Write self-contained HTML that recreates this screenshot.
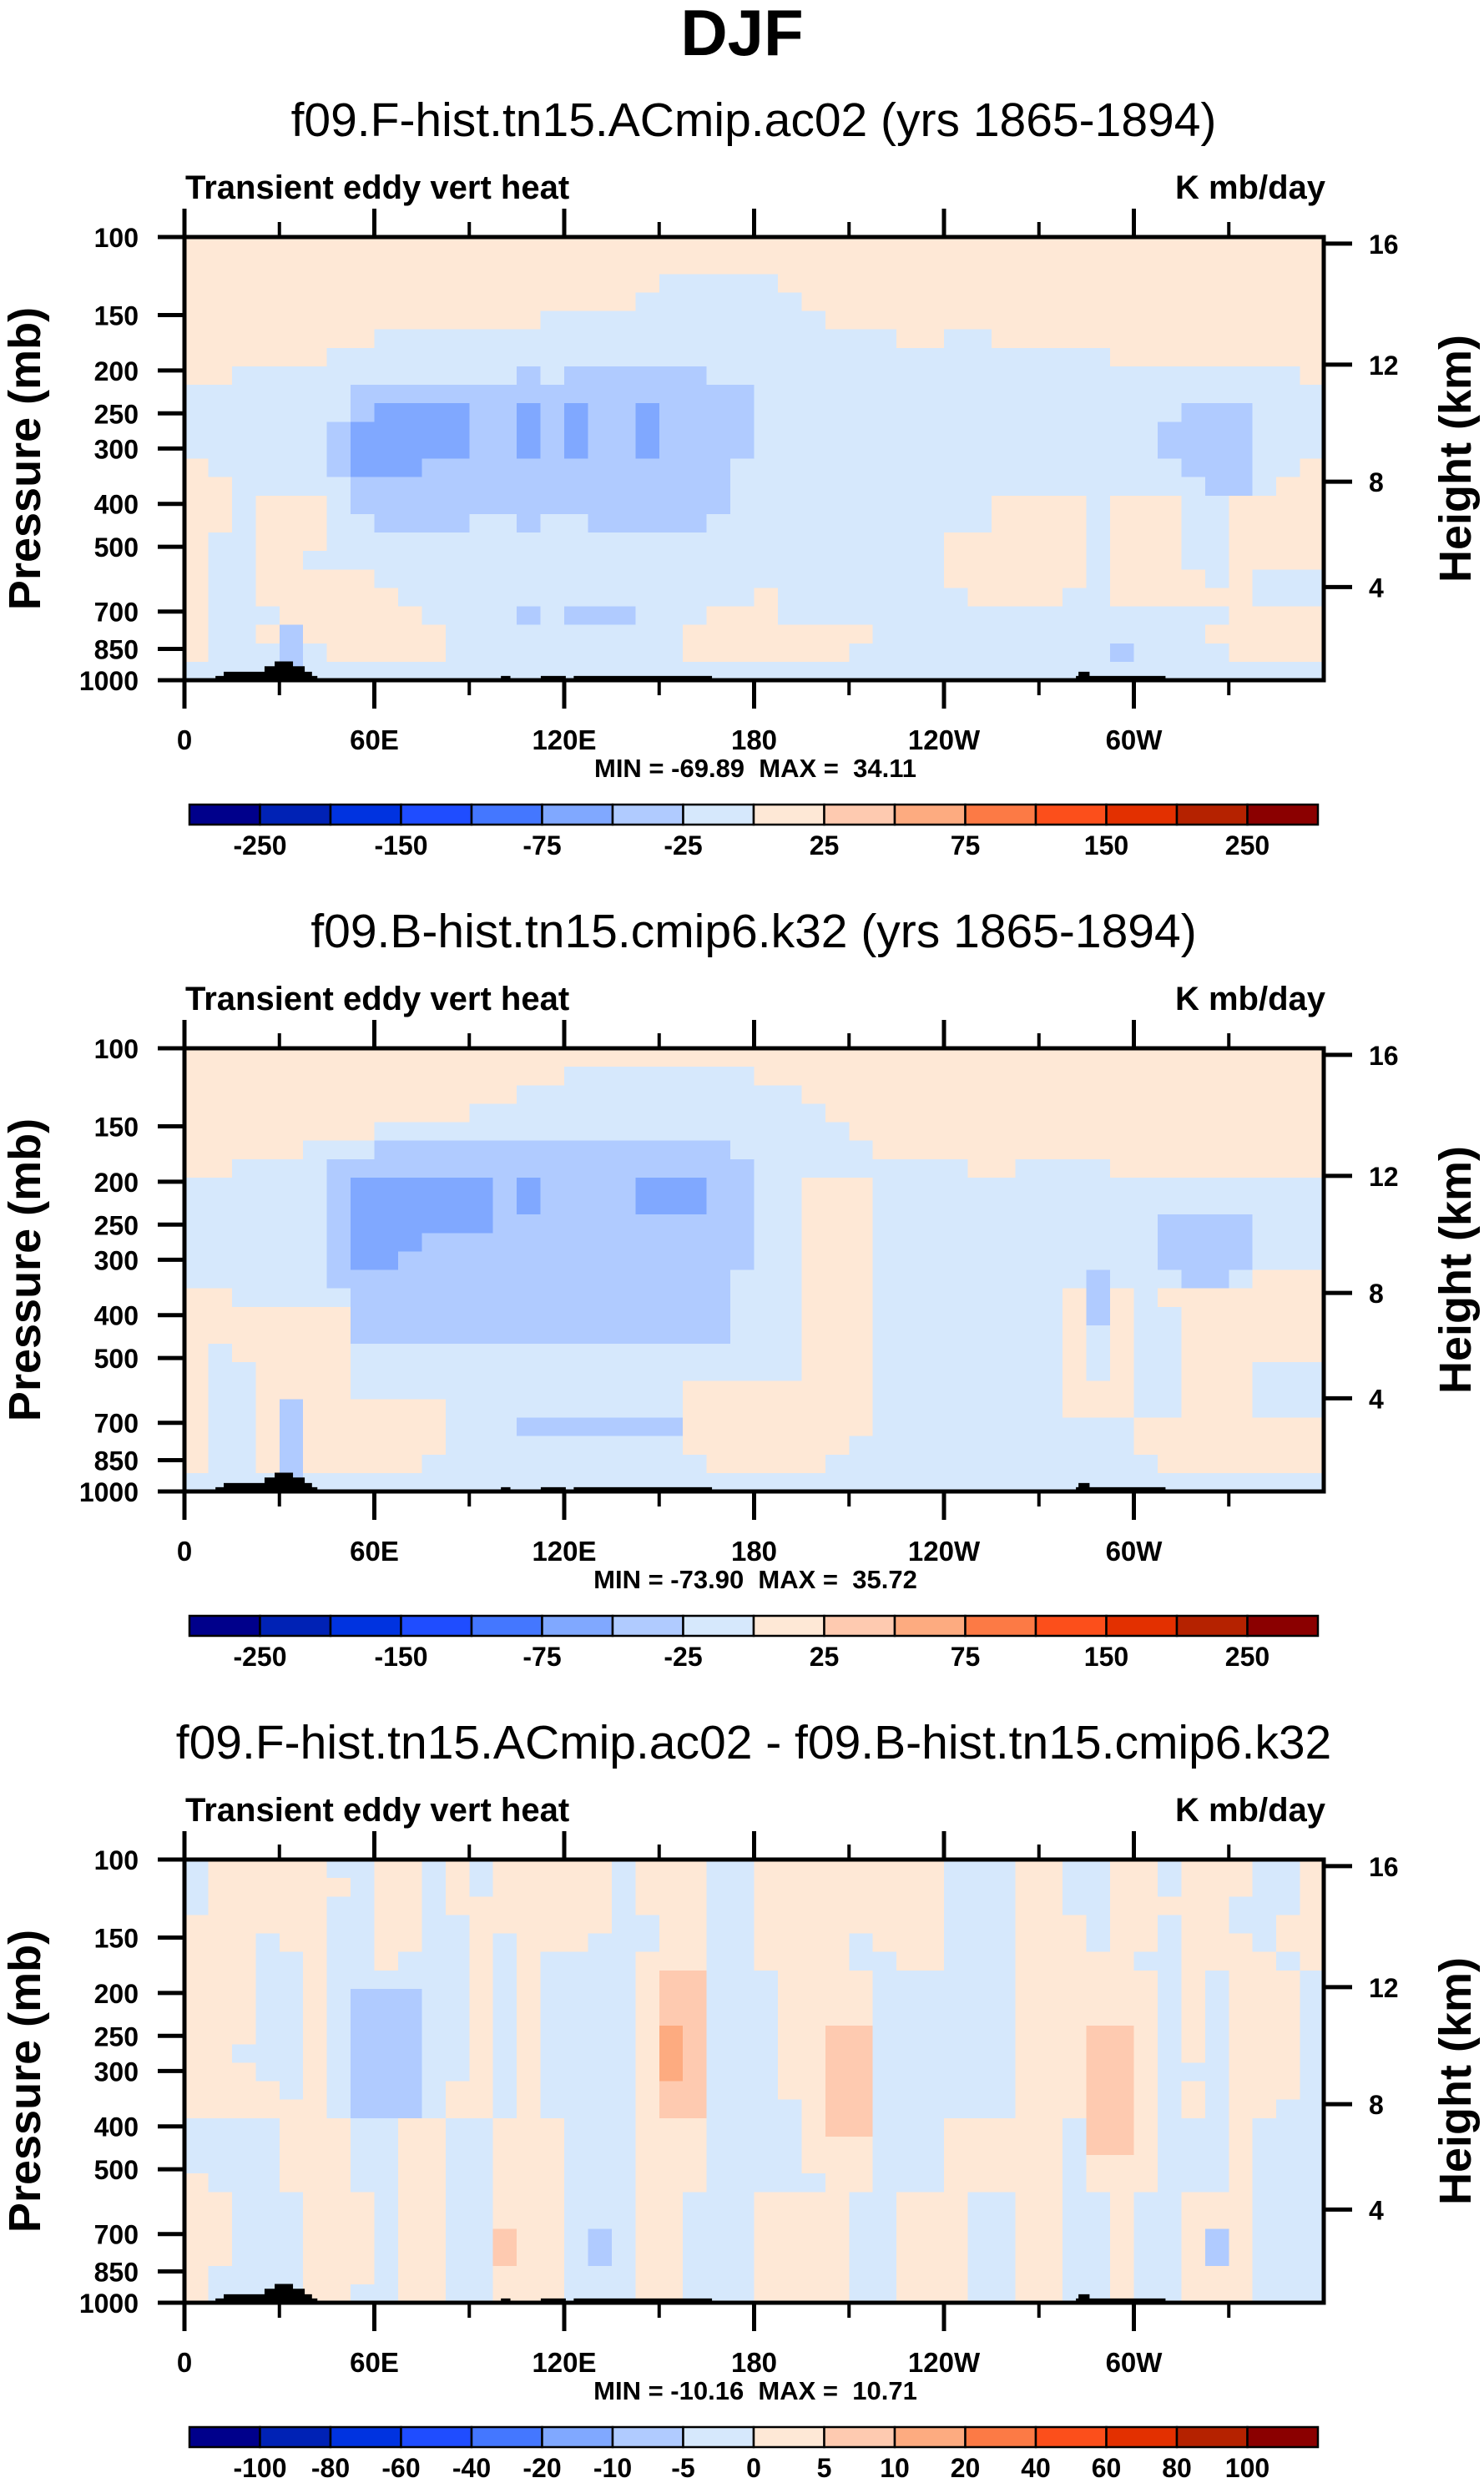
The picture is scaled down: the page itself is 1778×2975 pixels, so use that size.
<!DOCTYPE html>
<html><head><meta charset="utf-8"><style>
html,body{margin:0;padding:0;background:#fff;}
svg{display:block;font-family:"Liberation Sans",Arial,sans-serif;}
</style></head><body>
<svg id="fig" width="1778" height="2975" viewBox="0 0 1778 2975" xmlns="http://www.w3.org/2000/svg">
<rect width="1778" height="2975" fill="#fff"/>
<text x="889" y="66" text-anchor="middle" font-size="78" font-weight="bold">DJF</text>
</svg>
<script>
// ---- data ----
const lonTicks = [0, 60, 120, 180, 240, 300];
const lonLabels = ["0", "60E", "120E", "180", "120W", "60W"];
const lonMinor = [30, 90, 150, 210, 270, 330];
const presTicks = [100, 150, 200, 250, 300, 400, 500, 700, 850, 1000];
const heightLabels = ["16", "12", "8", "4"];
const heightP = [103.5, 194.0, 356.5, 616.4];
const colors = ["#00008b","#0022b5","#0033e0","#1f4dff","#4477ff","#80a8ff","#b0cbff","#d6e8fc","#fee8d6","#fecab0","#fdab80","#fc7a45","#fc4f1b","#e33000","#b52200","#8b0000"];
const levelsAbs = [-250,-200,-150,-100,-75,-50,-25,0,25,50,75,100,150,200,250];
const levelsDiff = [-100,-80,-60,-40,-20,-10,-5,0,5,10,20,40,60,80,100];
const codeValAbs = {".": 10, "a": -10, "b": -35, "c": -60};
const codeValDiff = {".": 2, "a": -2, "b": -7, "p": 7, "q": 15};
const titles = ["f09.F-hist.tn15.ACmip.ac02 (yrs 1865-1894)", "f09.B-hist.tn15.cmip6.k32 (yrs 1865-1894)", "f09.F-hist.tn15.ACmip.ac02 - f09.B-hist.tn15.cmip6.k32"];
const minVals = ["-69.89", "-73.90", "-10.16"];
const maxVals = ["34.11", "35.72", "10.71"];
const terrLon0 = [9.8, 12.4, 25.3, 28.5, 100, 112.6, 123, 281.7, 282.5];
const terrLon1 = [42, 40.3, 38, 34.3, 103, 120.5, 166.7, 310, 286];
const terrP = [978, 957, 930, 907, 978, 978, 978, 978, 957];
// grids: 24 rows (100mb -> 1000mb, log-spaced) x 48 cols (7.5 deg)
const field1 = [
"........ ........ ........ ........ ........ ........",
"........ ........ ........ ........ ........ ........",
"........ ........ ....aaaa a....... ........ ........",
"........ ........ ...aaaaa aa...... ........ ........",
"........ .......a aaaaaaaa aaa..... ........ ........",
"........ aaaaaaaa aaaaaaaa aaaaaa.. aa...... ........",
"......aa aaaaaaaa aaaaaaaa aaaaaaaa aaaaaaa. ........",
"..aaaaaa aaaaaaba bbbbbbaa aaaaaaaa aaaaaaaa aaaaaaa.",
"aaaaaaab bbbbbbbb bbbbbbbb aaaaaaaa aaaaaaaa aaaaaaaa",
"aaaaaaab ccccbbcb cbbcbbbb aaaaaaaa aaaaaaaa aabbbaaa",
"aaaaaabc ccccbbcb cbbcbbbb aaaaaaaa aaaaaaaa abbbbaaa",
"aaaaaabc ccccbbcb cbbcbbbb aaaaaaaa aaaaaaaa abbbbaaa",
".aaaaabc ccbbbbbb bbbbbbba aaaaaaaa aaaaaaaa aabbbaa.",
"..aaaaab bbbbbbbb bbbbbbba aaaaaaaa aaaaaaaa aaabba..",
"..a...ab bbbbbbbb bbbbbbba aaaaaaaa aa....a. ..aa....",
"..a...aa bbbbaaba abbbbbaa aaaaaaaa aa....a. ..aa....",
".aa...aa aaaaaaaa aaaaaaaa aaaaaaaa ......a. ..aa....",
".aa..aaa aaaaaaaa aaaaaaaa aaaaaaaa ......a. ..aa....",
".aa..... aaaaaaaa aaaaaaaa aaaaaaaa ......a. ...a.aaa",
".aa..... .aaaaaaa aaaaaaaa .aaaaaaa a....aa. .....aaa",
".aaa.... ..aaaaba bbbaaa.. .aaaaaaa aaaaaaaa aaaa....",
".aa.b... ...aaaaa aaaaa... .....aaa aaaaaaaa aaa.....",
".aaaba.. ...aaaaa aaaaa... ....aaaa aaaaaaab aaaa....",
"aaaabaaa aaaaaaaa aaaaaaaa aaaaaaaa aaaaaaaa aaaaaaaa"
];
const field2 = [
"........ ........ ........ ........ ........ ........",
"........ ........ aaaaaaaa ........ ........ ........",
"........ ......aa aaaaaaaa aa...... ........ ........",
"........ ....aaaa aaaaaaaa aaa..... ........ ........",
"........ aaaaaaaa aaaaaaaa aaaa.... ........ ........",
".....aaa bbbbbbbb bbbbbbba aaaaa... ........ ........",
"..aaaabb bbbbbbbb bbbbbbbb aaaaaaaa a..aaaa. ........",
"aaaaaabc cccccbcb bbbcccbb aa...aaa aaaaaaaa aaaaaaaa",
"aaaaaabc cccccbcb bbbcccbb aa...aaa aaaaaaaa aaaaaaaa",
"aaaaaabc cccccbbb bbbbbbbb aa...aaa aaaaaaaa abbbbaaa",
"aaaaaabc ccbbbbbb bbbbbbbb aa...aaa aaaaaaaa abbbbaaa",
"aaaaaabc cbbbbbbb bbbbbbbb aa...aaa aaaaaaaa abbbbaaa",
"aaaaaabb bbbbbbbb bbbbbbba aa...aaa aaaaaaba aabba...",
"..aaaaab bbbbbbbb bbbbbbba aa...aaa aaaaa.b. a.......",
".......b bbbbbbbb bbbbbbba aa...aaa aaaaa.b. aa......",
".......b bbbbbbbb bbbbbbba aa...aaa aaaaa.a. aa......",
".a.....a aaaaaaaa aaaaaaaa aa...aaa aaaaa.a. aa......",
".aa....a aaaaaaaa aaaaaaaa aa...aaa aaaaa.a. aa...aaa",
".aa....a aaaaaaaa aaaaa... .....aaa aaaaa... aa...aaa",
".aa.b... ...aaaaa aaaaa... .....aaa aaaaa... aa...aaa",
".aa.b... ...aaabb bbbbb... .....aaa aaaaaaaa ........",
".aa.b... ...aaaaa aaaaa... ....aaaa aaaaaaaa ........",
".aa.b... ..aaaaaa aaaaaa.. ...aaaaa aaaaaaaa a.......",
"aaaabaaa aaaaaaaa aaaaaaaa aaaaaaaa aaaaaaaa aaaaaaaa"
];
const field3 = [
"a.....aa ..a.a... ..a...aa ........ aaa..aa. .a...aa.",
"a......a ..a.a... ..a...aa ........ aaa..aa. .a...aa.",
"a.....aa ..a..... ..a...aa ........ aaa..aa. ....aaa.",
"......aa ..aa.... ..aa..aa ........ aaa...a. .a..aa..",
"...a..aa ..aa.a.. .aaa..aa ....a... aaa...a. .a...a..",
"...aa.aa .aaa.a.a aaa...aa ....aa.. aaa..... aa....a.",
"...aa.aa aaaa.a.a aaa.ppaa a....aaa aaa..... .a.a...a",
"...aa.ab bbaa.a.a aaa.ppaa a....aaa aaa..... .a.a...a",
"...aa.ab bbaa.a.a aaa.ppaa a....aaa aaa..... .a.a...a",
"...aa.ab bbaa.a.a aaa.qpaa a..ppaaa aaa...pp .a.a...a",
"..aaa.ab bbaa.a.a aaa.qpaa a..ppaaa aaa...pp .a.a...a",
"...aa.ab bbaa.a.a aaa.qpaa a..ppaaa aaa...pp .aaa...a",
"....a.ab bba..a.a aaa.ppaa a..ppaaa aaa...pp .a.a...a",
"......ab bba..a.a aaa.ppaa aa.ppaaa aaa...pp .a.a..aa",
"aaaa...a a..aa... aaa...aa aa.ppaaa .....app .aaa.aaa",
"aaaa...a a..aa... aaa...aa aa...aaa .....app .aaa.aaa",
"aaaa...a a..aa... aaa...aa aa...aaa .....a.. .aaa.aaa",
".aaa...a a..aa... aaa...aa aaa..aaa .....a.. .aaa.aaa",
"..aaa... a..aa... aaa..aaa ....aa.. .aa..aa. aa...aaa",
"..aaa... a..aa... aaa..aaa ....aa.. .aa..aa. aa...aaa",
"..aaa... a..aap.. aba..aaa ....aa.. .aa..aa. aa.b.aaa",
"..aaa... a..aap.. aba..aaa ....aa.. .aa..aa. aa.b.aaa",
".aaaa... a..aa... aaa..aaa ....aa.. .aa..aa. aa...aaa",
".aaaa..a a..aa... aaa..aaa ....aa.. .aa..aa. aa...aaa"
];

// ---- layout ----
const NS = "http://www.w3.org/2000/svg";
const svg = document.getElementById("fig");
const X0 = 221, X1 = 1586, PH = 531, PANEL_TOPS = [284, 1256, 2228];
function xLon(l){ return X0 + (l/360)*(X1-X0); }
function yP(top, p){ return top + PH*Math.log10(p/100); }
function mk(tag, attrs, parent){
  const e = document.createElementNS(NS, tag);
  for (const k in attrs) e.setAttribute(k, attrs[k]);
  (parent||svg).appendChild(e);
  return e;
}
function txt(str, attrs, parent){ const t = mk("text", attrs, parent); t.textContent = str; return t; }
function colorFor(v, levels){ let i=0; while(i<levels.length && v>=levels[i]) i++; return colors[i]; }

const fields = [field1, field2, field3];
const codeMaps = [codeValAbs, codeValAbs, codeValDiff];
const levelSets = [levelsAbs, levelsAbs, levelsDiff];

PANEL_TOPS.forEach((top, pi) => {
  const g = mk("g", {});
  
  
  const st = txt(titles[pi], {x: 903, y: top-121, "text-anchor":"middle", "font-size":"57"}, g);
  
  
  const lt = txt("Transient eddy vert heat", {x: 222, y: top-46, "font-size":"40", "font-weight":"bold"}, g);
  
  
  const ut = txt("K mb/day", {x: 1588, y: top-46, "text-anchor":"end", "font-size":"40", "font-weight":"bold"}, g);
  
  

  // field cells
  const field = fields[pi], cmap = codeMaps[pi], lev = levelSets[pi];
  const nR = field.length;
  const fg = mk("g", {"shape-rendering":"crispEdges"}, g);
  
  
  for (let r=0; r<nR; r++){
    const row = field[r].replace(/ /g, "");
    const nC = row.length;
    const pA = 100*Math.pow(10, r/nR), pB = 100*Math.pow(10, (r+1)/nR);
    const ya = yP(top, pA), yb = yP(top, pB);
    for (let c=0; c<nC; c++){
      const la = c*360/nC, lb = (c+1)*360/nC;
      const v = cmap[row[c]];
      const cell = mk("rect", {x: xLon(la), y: ya, width: xLon(lb)-xLon(la)+0.8, height: yb-ya+0.8, fill: colorFor(v, lev)}, fg);
      
      
    }
  }
  // terrain
  for (let i=0; i<terrP.length; i++){
    const t = mk("rect", {x: xLon(terrLon0[i]), y: yP(top, terrP[i]), width: xLon(terrLon1[i])-xLon(terrLon0[i]), height: yP(top,1000)-yP(top,terrP[i]), fill:"#000"}, g);
    
    
  }
  // frame
  const fr = mk("rect", {x: X0, y: top, width: X1-X0, height: PH, fill:"none", stroke:"#000", "stroke-width":"5"}, g);
  
  
  const bottom = top + PH;
  lonTicks.forEach((l, i) => {
    const x = xLon(l);
    mk("line", {x1:x, y1:top, x2:x, y2:top-34, stroke:"#000", "stroke-width":"5"}, g);
    mk("line", {x1:x, y1:bottom, x2:x, y2:bottom+34, stroke:"#000", "stroke-width":"5"}, g);
    const lb = txt(lonLabels[i], {x:x, y: bottom+83, "text-anchor":"middle", "font-size":"33", "font-weight":"bold"}, g);
    
    
  });
  lonMinor.forEach(l => {
    const x = xLon(l);
    mk("line", {x1:x, y1:top, x2:x, y2:top-18, stroke:"#000", "stroke-width":"4"}, g);
    mk("line", {x1:x, y1:bottom, x2:x, y2:bottom+18, stroke:"#000", "stroke-width":"4"}, g);
  });
  presTicks.forEach(p => {
    const y = yP(top, p);
    mk("line", {x1:X0, y1:y, x2:X0-32, y2:y, stroke:"#000", "stroke-width":"5"}, g);
    const lb = txt(String(p), {x: 166, y: y+12, "text-anchor":"end", "font-size":"32", "font-weight":"bold"}, g);
    
    
  });
  heightP.forEach((p, i) => {
    const y = yP(top, p);
    mk("line", {x1:X1, y1:y, x2:X1+34, y2:y, stroke:"#000", "stroke-width":"5"}, g);
    const lb = txt(heightLabels[i], {x: 1640, y: y+12, "font-size":"32", "font-weight":"bold"}, g);
    
    
  });
  const ym = top + PH/2;
  const yt = txt("Pressure (mb)", {x: 0, y: 0, transform: "translate(48," + ym + ") rotate(-90)", "text-anchor":"middle", "font-size":"54", "font-weight":"bold"}, g);
  
  
  const ht = txt("Height (km)", {x: 0, y: 0, transform: "translate(1762," + ym + ") rotate(-90)", "text-anchor":"middle", "font-size":"54", "font-weight":"bold"}, g);
  
  
  const mm = txt("MIN = " + minVals[pi] + "  MAX =  " + maxVals[pi], {x: 905, y: bottom+116, "text-anchor":"middle", "font-size":"31", "font-weight":"bold", "xml:space":"preserve", "style":"white-space:pre"}, g);
  
  

  // colorbar
  const cb = mk("g", {}, g);
  
  
  const cx0 = 227, cx1 = 1579, cy = top + 680, chh = 24, bw = (cx1-cx0)/colors.length;
  colors.forEach((c, i) => {
    const b = mk("rect", {x: cx0 + i*bw, y: cy, width: bw, height: chh, fill: c, stroke:"#000", "stroke-width":"2.5"}, cb);
    
    
  });
  lev.forEach((v, i) => {
    if (pi < 2 && i % 2 === 1) return;
    const lb = txt(String(v), {x: cx0 + (i+1)*bw, y: cy+60, "text-anchor":"middle", "font-size":"32", "font-weight":"bold"}, cb);
    
    
  });
});
</script>
</body></html>
